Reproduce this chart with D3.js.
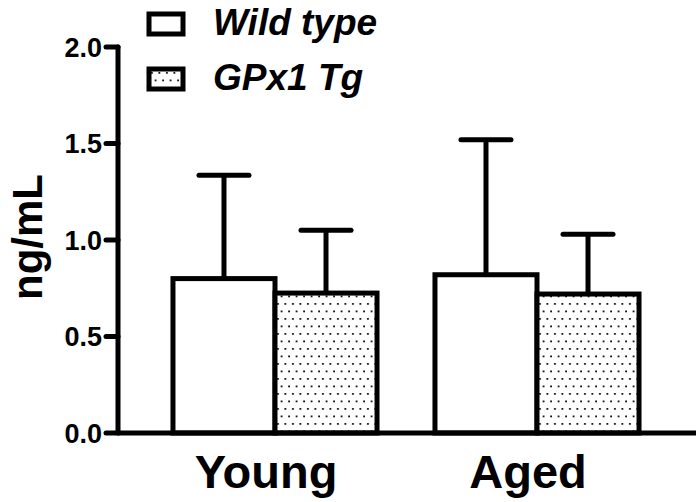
<!DOCTYPE html>
<meta charset="utf-8">
<title>ng/mL by age and genotype</title>
<style>
  body { margin: 0; background: #fff; }
  text { font-family: "Liberation Sans", Arial, sans-serif; font-weight: bold; fill: #000; }
</style>
<body>
<script src="https://d3js.org/d3.v7.min.js"></script>
<script>

let groups = ["Young", "Aged"];
let series = ["Wild type", "GPx1 Tg"];
let means = {
  "Wild type": [0.80, 0.82],
  "GPx1 Tg":   [0.725, 0.72]
};
let errTop = {
  "Wild type": [1.335, 1.52],
  "GPx1 Tg":   [1.05, 1.03]
};
let yTicks = [0, 0.5, 1.0, 1.5, 2.0];

let width = 696, height = 502;

let svg = d3.select("body").append("svg")
    .attr("width", width)
    .attr("height", height);

// dotted fill for the transgenic bars
let defs = svg.append("defs");
let pat = defs.append("pattern")
    .attr("id", "dots")
    .attr("patternUnits", "userSpaceOnUse")
    .attr("width", 7.5)
    .attr("height", 15);
pat.append("rect").attr("width", 7.5).attr("height", 15).attr("fill", "#fff");
pat.append("rect").attr("x", 2).attr("y", 3).attr("width", 1.8).attr("height", 1.8).attr("fill", "#111");
pat.append("rect").attr("x", 5.7).attr("y", 10.5).attr("width", 1.8).attr("height", 1.8).attr("fill", "#111");

let fills = { "Wild type": "#fff", "GPx1 Tg": "url(#dots)" };

let y = d3.scaleLinear().domain([0, 2]).range([433, 47]);
let x0 = d3.scaleBand().domain(groups).range([144, 668]);
let x1 = d3.scaleBand().domain(series).range([0, x0.bandwidth()])
    .paddingInner(0).paddingOuter(0.284);

let axisX = 118;

// bars
let rows = [];
groups.forEach((g, gi) => {
  series.forEach(s => {
    rows.push({ group: g, series: s, value: means[s][gi], top: errTop[s][gi] });
  });
});

let bar = svg.selectAll(".bar")
    .data(rows)
    .enter().append("g")
      .attr("class", "bar")
      .attr("transform", d => `translate(${x0(d.group) + x1(d.series)},0)`);

// error bars (upper only)
bar.append("line")
    .attr("x1", x1.bandwidth() / 2)
    .attr("x2", x1.bandwidth() / 2)
    .attr("y1", d => y(d.value))
    .attr("y2", d => y(d.top))
    .attr("stroke", "#000")
    .attr("stroke-width", 5);
bar.append("line")
    .attr("x1", x1.bandwidth() / 2 - 25)
    .attr("x2", x1.bandwidth() / 2 + 25)
    .attr("y1", d => y(d.top))
    .attr("y2", d => y(d.top))
    .attr("stroke", "#000")
    .attr("stroke-width", 5)
    .attr("stroke-linecap", "round");

bar.append("rect")
    .attr("x", 0)
    .attr("width", x1.bandwidth())
    .attr("y", d => y(d.value))
    .attr("height", d => y(0) - y(d.value))
    .attr("fill", d => fills[d.series])
    .attr("stroke", "#000")
    .attr("stroke-width", 5);

// y axis
svg.append("line")
    .attr("x1", axisX).attr("x2", axisX)
    .attr("y1", y(2)).attr("y2", y(0))
    .attr("stroke", "#000").attr("stroke-width", 5)
    .attr("stroke-linecap", "round");

let tick = svg.selectAll(".ytick")
    .data(yTicks)
    .enter().append("g")
      .attr("class", "ytick")
      .attr("transform", d => `translate(0,${y(d)})`);
tick.append("line")
    .attr("x1", axisX - 12).attr("x2", axisX)
    .attr("stroke", "#000").attr("stroke-width", 5)
    .attr("stroke-linecap", "round");
tick.append("text")
    .attr("x", axisX - 16)
    .attr("dy", "0.36em")
    .attr("text-anchor", "end")
    .style("font-size", "27px")
    .text(d => d3.format(".1f")(d));

// x axis
svg.append("line")
    .attr("x1", axisX).attr("x2", width)
    .attr("y1", y(0)).attr("y2", y(0))
    .attr("stroke", "#000").attr("stroke-width", 5);

svg.selectAll(".xlabel")
    .data(groups)
    .enter().append("text")
      .attr("class", "xlabel")
      .attr("x", d => x0(d) + x0.bandwidth() / 2 - 9)
      .attr("y", 488)
      .attr("text-anchor", "middle")
      .style("font-size", "47px")
      .text(d => d);

// y label
svg.append("text")
    .attr("transform", "translate(42,237)rotate(-90)")
    .attr("text-anchor", "middle")
    .style("font-size", "42px")
    .text("ng/mL");

// legend
let legend = svg.selectAll(".legend")
    .data(series)
    .enter().append("g")
      .attr("class", "legend")
      .attr("transform", (d, i) => `translate(149,${14 + i * 55})`);
legend.append("rect")
    .attr("width", 34)
    .attr("height", 20)
    .attr("fill", d => fills[d])
    .attr("stroke", "#000")
    .attr("stroke-width", 5);
legend.append("text")
    .attr("x", 64)
    .attr("y", 21)
    .style("font-size", "37px")
    .style("font-style", "italic")
    .text(d => d);

</script>
</body>
